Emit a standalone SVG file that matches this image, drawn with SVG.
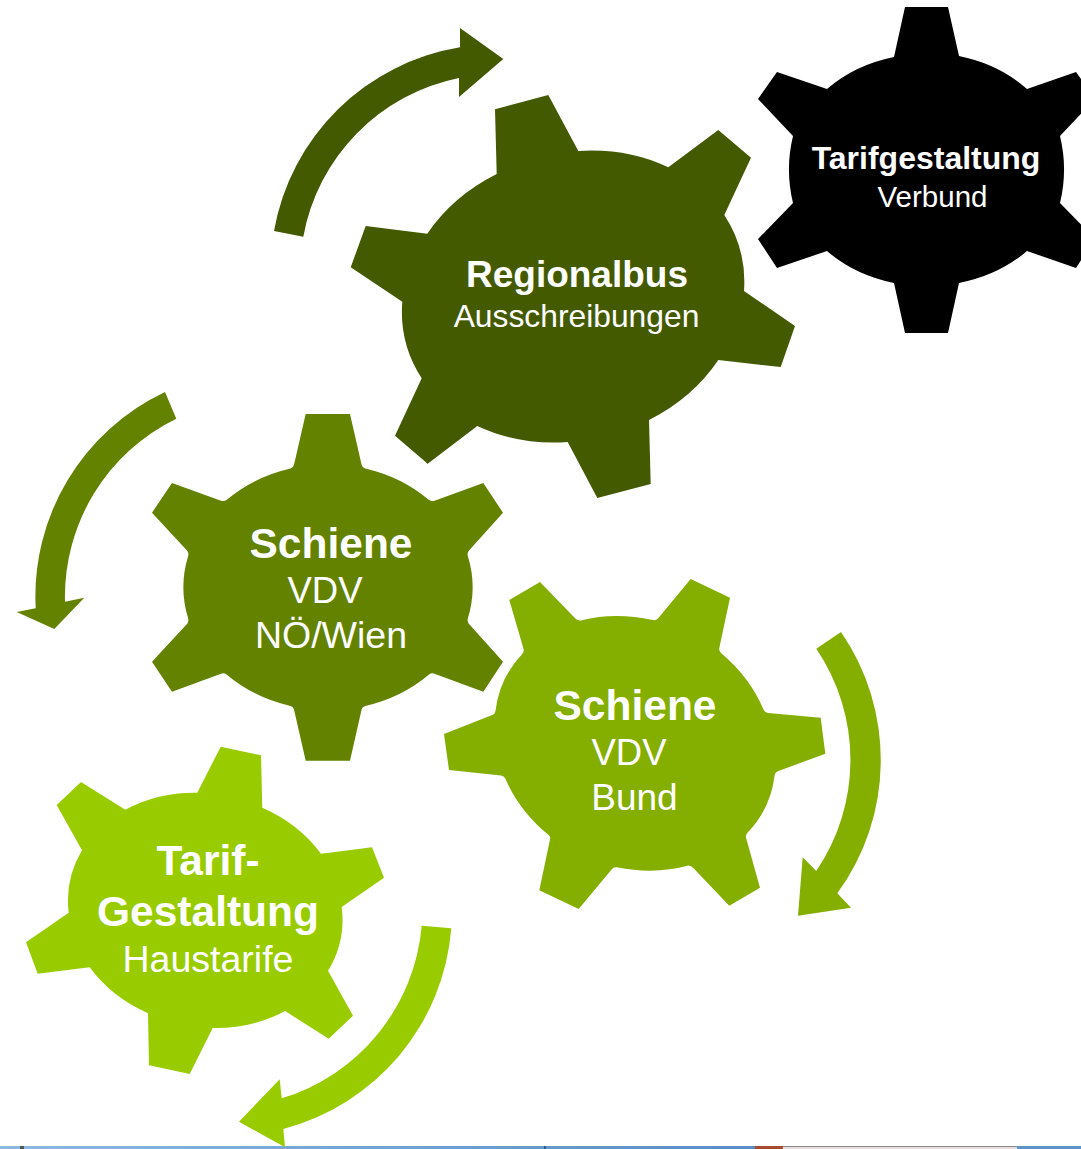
<svg xmlns="http://www.w3.org/2000/svg" width="1081" height="1149" viewBox="0 0 1081 1149">
<style>
text{font-family:"Liberation Sans",Arial,sans-serif;fill:#fff;text-anchor:middle}
.b{font-weight:700}
.c1{fill:#445a00}.c2{fill:#638200}.c3{fill:#84ae00}.c4{fill:#99cc00}
</style>
<defs>
<linearGradient id="strip" x1="0" x2="1" y1="0" y2="0">
<stop offset="0" stop-color="#8ab9e2"/><stop offset="1" stop-color="#5a8cc6"/>
</linearGradient>
</defs>
<rect width="1081" height="1149" fill="#fff"/>
<g id="taskbar">
<rect x="0" y="1146" width="760" height="3" fill="url(#strip)"/>
<rect x="20" y="1146" width="4" height="3" fill="#555"/>
<rect x="544" y="1146" width="2" height="3" fill="#2a5a90"/>
<rect x="755" y="1146" width="28" height="3" fill="#a84c30"/>
<rect x="783" y="1146" width="234" height="3" fill="#e6dfe0"/>
<rect x="783" y="1146" width="234" height="1" fill="#8a8a8a"/>
<rect x="1017" y="1146" width="64" height="3" fill="#5d93c8"/>
</g>
<g id="connectors">
<path class="c1" d="M274,231 A226,226 0 0 1 460,47.3 L460,28 L503.3,59 L459,97 L459,78 A198,198 0 0 0 303.3,236.7 Z"/>
<path class="c2" d="M165,392 A226,226 0 0 0 35.7,608.3 L16.7,612 L54.3,629 L84.3,597.7 L65,601.7 A198,198 0 0 1 176.3,418.7 Z"/>
<path class="c3" d="M841,632 A226,226 0 0 1 837.3,893.3 L851,907.7 L798,915.7 L802.7,857.3 L816.3,871 A198,198 0 0 0 816.3,648.7 Z"/>
<path class="c4" d="M451.3,928.3 A226,226 0 0 1 283.3,1129 L285,1147.3 L239,1121.7 L279.7,1079.3 L281.7,1098.3 A198,198 0 0 0 421.7,925.7 Z"/>
</g>
<g id="gear-tarifgestaltung-verbund">
<path fill="#000" d="M905,7 L948,7 L959,56 A138,115 0 0 1 1027,89 L1076,72 L1095,99 L1060,136 A142,142 0 0 1 1060,203 L1095,239 L1076,268 L1027,251 A138,115 0 0 1 959,283 L948,333 L905,333 L894,283 A138,115 0 0 1 827,251 L777,268 L758,239 L793,203 A142,142 0 0 1 793,136 L758,99 L777,72 L827,89 A138,115 0 0 1 894,57 Z"/>
<text class="b" x="926" y="169" font-size="32">Tarifgestaltung</text>
<text x="932.5" y="206.7" font-size="29.5">Verbund</text>
</g>
<g id="gear-regionalbus">
<path class="c1" d="M495,109.3 L548.3,95 L578.3,151 A172,144 -15 0 1 668.3,167.3 L718.3,130 L751,157.7 L724.3,215 A172,144 -15 0 1 744,291 L795,326 L780.7,367 L718.3,360 A172,144 -15 0 1 649,420 L650.7,484 L597.3,498 L567.7,442 A172,144 -15 0 1 477.3,426 L427.7,463.7 L395,435.7 L421.7,378.3 A172,144 -15 0 1 402.3,301.7 L350.7,267.3 L365.7,226 L427.3,233.7 A172,144 -15 0 1 496.7,174 Z"/>
<text class="b" x="577" y="287" font-size="37">Regionalbus</text>
<text x="576.5" y="326.7" font-size="31.8">Ausschreibungen</text>
</g>
<g id="gear-schiene-noe-wien">
<path class="c2" d="M305.7,414 L350,414 L361.6,464.8 Q362.3,467.7 365.2,468.5 A144,122 0 0 1 429,500 Q431.7,501.7 434.5,500.7 L483.3,483 L503,512.7 L469,550.5 Q467,552.7 467.8,556 A144,122 0 0 1 467.8,618.4 Q467,621.7 469,623.9 L503,661.7 L483.3,691.7 L434.5,673.7 Q431.7,672.7 429,674.4 A144,122 0 0 1 365.2,705.9 Q362.3,706.7 361.6,709.6 L350,760.7 L305.7,760.7 L294,709.6 Q293.3,706.7 290.4,705.9 A144,122 0 0 1 226.6,674.4 Q223.9,672.7 221,673.7 L172,691.7 L152,661.7 L187,623.9 Q189,621.7 188.2,618.4 A144,122 0 0 1 188.2,556 Q189,552.7 187,550.5 L152,512.7 L172,483 L221,500.7 Q223.9,501.7 226.6,500 A144,122 0 0 1 290.4,468.5 Q293.3,467.7 294,464.8 Z"/>
<text class="b" x="331" y="557.7" font-size="42.5">Schiene</text>
<text x="325" y="603" font-size="36.5">VDV</text>
<text x="331" y="648" font-size="37.5">NÖ/Wien</text>
</g>
<g id="gear-schiene-bund">
<path class="c3" d="M509.3,600 L540,582 L575.6,618.8 Q577.7,621 581,620.4 A146,120 25 0 1 652.7,620.1 Q656,620.7 658,618.4 L690.7,579 L730,597.7 L719.3,648 Q718.7,651 721,653 A146,120 25 0 1 763.7,710 Q765,712.7 768,713 L820.7,717.7 L825.3,753.7 L777.8,771.3 Q775,772.3 774.6,775.5 A146,120 25 0 1 747.5,832.8 Q745.3,835 746.1,838 L760,887.7 L729.3,905.7 L693.8,868.5 Q691.7,866.3 688.5,865.6 A146,120 25 0 1 617,867.3 Q614,866.7 612,869 L578.7,909 L539.3,890.3 L550,839.6 Q550.7,836.7 548.3,834.8 A146,120 25 0 1 505.3,778.5 Q504,775.7 501,775.4 L449,770 L444,734 L492.2,715.1 Q495,714 495.5,711 A146,120 25 0 1 522.2,654 Q524.3,651.7 523.5,648.8 Z"/>
<text class="b" x="635" y="720" font-size="42.5">Schiene</text>
<text x="629" y="765" font-size="36.5">VDV</text>
<text x="634.5" y="810" font-size="37">Bund</text>
</g>
<g id="gear-tarif-gestaltung">
<path class="c4" d="M220.7,746.7 L261,755.3 L262.3,807.7 A137,115 12 0 1 321,853.7 L372,847.3 L384,877.7 L341.7,907 A137,115 12 0 1 328,970.7 L353,1015.7 L328.7,1038.7 L285,1011 A137,115 12 0 1 212.7,1028 L189.7,1074 L149,1065.3 L148,1013.3 A137,115 12 0 1 89.7,967.3 L37.7,973.7 L26,942.3 L68.7,912.7 A137,115 12 0 1 82,850.3 L56.7,805 L81,782 L125.3,809.7 A137,115 12 0 1 197.3,792.7 Z"/>
<text class="b" x="208" y="875" font-size="42.5">Tarif-</text>
<text class="b" x="208" y="926" font-size="42.5">Gestaltung</text>
<text x="208" y="972" font-size="37.5">Haustarife</text>
</g>
</svg>
